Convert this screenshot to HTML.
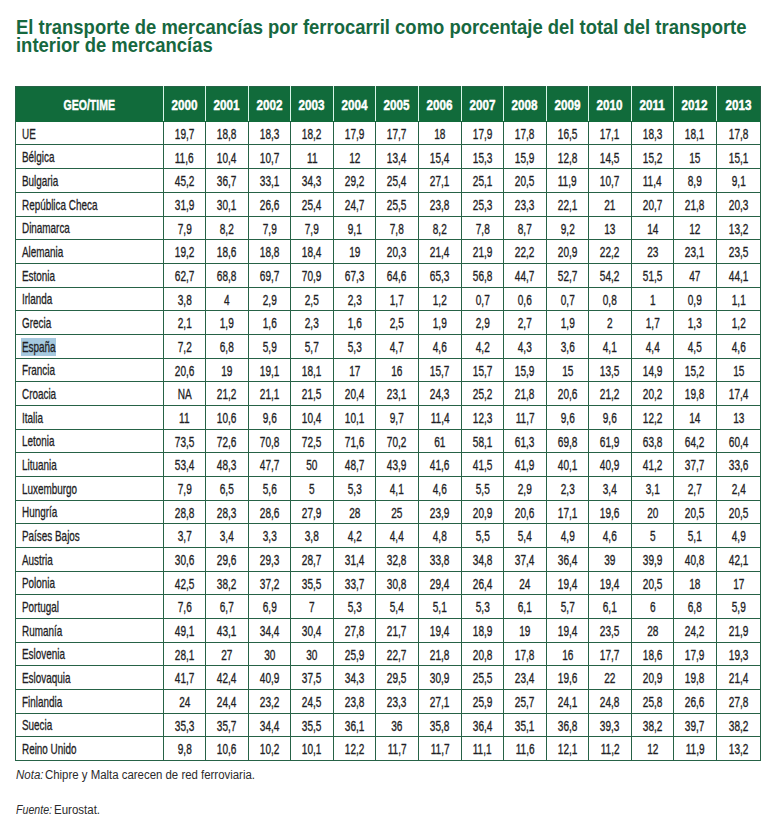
<!DOCTYPE html><html><head><meta charset="utf-8"><style>
html,body{margin:0;padding:0;background:#fff}
body{width:781px;height:821px;position:relative;overflow:hidden;font-family:"Liberation Sans",sans-serif}
.a{position:absolute}
.h{position:absolute;height:1px;background:#266246}
.v{position:absolute;width:1px;background:#266246}
.n{position:absolute;text-align:center;font-size:14px;line-height:14px;color:#1e1e24;white-space:nowrap;-webkit-text-stroke:0.32px #1e1e24}
.n span{display:inline-block;transform:scaleX(0.72);transform-origin:50% 50%}
.c{position:absolute;font-size:15px;line-height:15px;color:#1e1e24;white-space:nowrap;-webkit-text-stroke:0.32px #1e1e24;transform:scaleX(0.66);transform-origin:0 50%}
.y{position:absolute;text-align:center;font-size:14px;line-height:14px;color:#fff;font-weight:bold;white-space:nowrap;-webkit-text-stroke:0.45px #fff}
.y span{display:inline-block;transform:scaleX(0.835);transform-origin:50% 50%}
</style></head><body>
<div class="a" style="left:15.7px;top:17.74px;font-size:19.8px;line-height:19.8px;font-weight:bold;color:#17683f;white-space:nowrap;transform:scaleX(0.932);transform-origin:0 50%">El transporte de mercancías por ferrocarril como porcentaje del total del transporte</div>
<div class="a" style="left:15.7px;top:35.94px;font-size:19.8px;line-height:19.8px;font-weight:bold;color:#17683f;white-space:nowrap;transform:scaleX(0.932);transform-origin:0 50%">interior de mercancías</div>
<div class="a" style="left:15px;top:86px;width:746px;height:36px;background:#116b3b"></div>
<div class="v" style="left:15px;top:86px;height:675px"></div>
<div class="v" style="left:760px;top:86px;height:675px"></div>
<div class="h" style="left:15px;top:86px;width:746px"></div>
<div class="h" style="left:15px;top:144px;width:746px"></div>
<div class="h" style="left:15px;top:168px;width:746px"></div>
<div class="h" style="left:15px;top:192px;width:746px"></div>
<div class="h" style="left:15px;top:216px;width:746px"></div>
<div class="h" style="left:15px;top:239px;width:746px"></div>
<div class="h" style="left:15px;top:263px;width:746px"></div>
<div class="h" style="left:15px;top:287px;width:746px"></div>
<div class="h" style="left:15px;top:310px;width:746px"></div>
<div class="h" style="left:15px;top:334px;width:746px"></div>
<div class="h" style="left:15px;top:358px;width:746px"></div>
<div class="h" style="left:15px;top:381px;width:746px"></div>
<div class="h" style="left:15px;top:405px;width:746px"></div>
<div class="h" style="left:15px;top:429px;width:746px"></div>
<div class="h" style="left:15px;top:452px;width:746px"></div>
<div class="h" style="left:15px;top:476px;width:746px"></div>
<div class="h" style="left:15px;top:500px;width:746px"></div>
<div class="h" style="left:15px;top:523px;width:746px"></div>
<div class="h" style="left:15px;top:547px;width:746px"></div>
<div class="h" style="left:15px;top:571px;width:746px"></div>
<div class="h" style="left:15px;top:594px;width:746px"></div>
<div class="h" style="left:15px;top:618px;width:746px"></div>
<div class="h" style="left:15px;top:642px;width:746px"></div>
<div class="h" style="left:15px;top:665px;width:746px"></div>
<div class="h" style="left:15px;top:689px;width:746px"></div>
<div class="h" style="left:15px;top:713px;width:746px"></div>
<div class="h" style="left:15px;top:736px;width:746px"></div>
<div class="h" style="left:15px;top:760px;width:746px"></div>
<div class="v" style="left:163px;top:121px;height:640px"></div>
<div class="v" style="left:205px;top:121px;height:640px"></div>
<div class="v" style="left:248px;top:121px;height:640px"></div>
<div class="v" style="left:290px;top:121px;height:640px"></div>
<div class="v" style="left:333px;top:121px;height:640px"></div>
<div class="v" style="left:375px;top:121px;height:640px"></div>
<div class="v" style="left:418px;top:121px;height:640px"></div>
<div class="v" style="left:461px;top:121px;height:640px"></div>
<div class="v" style="left:503px;top:121px;height:640px"></div>
<div class="v" style="left:546px;top:121px;height:640px"></div>
<div class="v" style="left:588px;top:121px;height:640px"></div>
<div class="v" style="left:631px;top:121px;height:640px"></div>
<div class="v" style="left:673px;top:121px;height:640px"></div>
<div class="v" style="left:716px;top:121px;height:640px"></div>
<div class="a" style="left:163px;top:86px;width:1px;height:35px;background:#d8f5e8"></div>
<div class="a" style="left:205px;top:86px;width:1px;height:35px;background:#d8f5e8"></div>
<div class="a" style="left:248px;top:86px;width:1px;height:35px;background:#d8f5e8"></div>
<div class="a" style="left:290px;top:86px;width:1px;height:35px;background:#d8f5e8"></div>
<div class="a" style="left:333px;top:86px;width:1px;height:35px;background:#d8f5e8"></div>
<div class="a" style="left:375px;top:86px;width:1px;height:35px;background:#d8f5e8"></div>
<div class="a" style="left:418px;top:86px;width:1px;height:35px;background:#d8f5e8"></div>
<div class="a" style="left:461px;top:86px;width:1px;height:35px;background:#d8f5e8"></div>
<div class="a" style="left:503px;top:86px;width:1px;height:35px;background:#d8f5e8"></div>
<div class="a" style="left:546px;top:86px;width:1px;height:35px;background:#d8f5e8"></div>
<div class="a" style="left:588px;top:86px;width:1px;height:35px;background:#d8f5e8"></div>
<div class="a" style="left:631px;top:86px;width:1px;height:35px;background:#d8f5e8"></div>
<div class="a" style="left:673px;top:86px;width:1px;height:35px;background:#d8f5e8"></div>
<div class="a" style="left:716px;top:86px;width:1px;height:35px;background:#d8f5e8"></div>
<div class="y" style="left:15px;width:148px;top:97.85px"><span style="transform:scaleX(0.75)">GEO/TIME</span></div>
<div class="y" style="left:164px;width:41px;top:97.85px"><span>2000</span></div>
<div class="y" style="left:206px;width:42px;top:97.85px"><span>2001</span></div>
<div class="y" style="left:249px;width:41px;top:97.85px"><span>2002</span></div>
<div class="y" style="left:291px;width:42px;top:97.85px"><span>2003</span></div>
<div class="y" style="left:334px;width:41px;top:97.85px"><span>2004</span></div>
<div class="y" style="left:376px;width:42px;top:97.85px"><span>2005</span></div>
<div class="y" style="left:419px;width:42px;top:97.85px"><span>2006</span></div>
<div class="y" style="left:462px;width:41px;top:97.85px"><span>2007</span></div>
<div class="y" style="left:504px;width:42px;top:97.85px"><span>2008</span></div>
<div class="y" style="left:547px;width:41px;top:97.85px"><span>2009</span></div>
<div class="y" style="left:589px;width:42px;top:97.85px"><span>2010</span></div>
<div class="y" style="left:632px;width:41px;top:97.85px"><span>2011</span></div>
<div class="y" style="left:674px;width:42px;top:97.85px"><span>2012</span></div>
<div class="y" style="left:717px;width:43px;top:97.85px"><span>2013</span></div>
<div class="c" style="left:22.3px;top:125.80px">UE</div>
<div class="n" style="left:164px;width:41px;top:127.15px"><span>19,7</span></div>
<div class="n" style="left:206px;width:42px;top:127.15px"><span>18,8</span></div>
<div class="n" style="left:249px;width:41px;top:127.15px"><span>18,3</span></div>
<div class="n" style="left:291px;width:42px;top:127.15px"><span>18,2</span></div>
<div class="n" style="left:334px;width:41px;top:127.15px"><span>17,9</span></div>
<div class="n" style="left:376px;width:42px;top:127.15px"><span>17,7</span></div>
<div class="n" style="left:419px;width:42px;top:127.15px"><span>18</span></div>
<div class="n" style="left:462px;width:41px;top:127.15px"><span>17,9</span></div>
<div class="n" style="left:504px;width:42px;top:127.15px"><span>17,8</span></div>
<div class="n" style="left:547px;width:41px;top:127.15px"><span>16,5</span></div>
<div class="n" style="left:589px;width:42px;top:127.15px"><span>17,1</span></div>
<div class="n" style="left:632px;width:41px;top:127.15px"><span>18,3</span></div>
<div class="n" style="left:674px;width:42px;top:127.15px"><span>18,1</span></div>
<div class="n" style="left:717px;width:43px;top:127.15px"><span>17,8</span></div>
<div class="c" style="left:22.3px;top:149.47px">Bélgica</div>
<div class="n" style="left:164px;width:41px;top:150.82px"><span>11,6</span></div>
<div class="n" style="left:206px;width:42px;top:150.82px"><span>10,4</span></div>
<div class="n" style="left:249px;width:41px;top:150.82px"><span>10,7</span></div>
<div class="n" style="left:291px;width:42px;top:150.82px"><span>11</span></div>
<div class="n" style="left:334px;width:41px;top:150.82px"><span>12</span></div>
<div class="n" style="left:376px;width:42px;top:150.82px"><span>13,4</span></div>
<div class="n" style="left:419px;width:42px;top:150.82px"><span>15,4</span></div>
<div class="n" style="left:462px;width:41px;top:150.82px"><span>15,3</span></div>
<div class="n" style="left:504px;width:42px;top:150.82px"><span>15,9</span></div>
<div class="n" style="left:547px;width:41px;top:150.82px"><span>12,8</span></div>
<div class="n" style="left:589px;width:42px;top:150.82px"><span>14,5</span></div>
<div class="n" style="left:632px;width:41px;top:150.82px"><span>15,2</span></div>
<div class="n" style="left:674px;width:42px;top:150.82px"><span>15</span></div>
<div class="n" style="left:717px;width:43px;top:150.82px"><span>15,1</span></div>
<div class="c" style="left:22.3px;top:173.14px">Bulgaria</div>
<div class="n" style="left:164px;width:41px;top:174.48px"><span>45,2</span></div>
<div class="n" style="left:206px;width:42px;top:174.48px"><span>36,7</span></div>
<div class="n" style="left:249px;width:41px;top:174.48px"><span>33,1</span></div>
<div class="n" style="left:291px;width:42px;top:174.48px"><span>34,3</span></div>
<div class="n" style="left:334px;width:41px;top:174.48px"><span>29,2</span></div>
<div class="n" style="left:376px;width:42px;top:174.48px"><span>25,4</span></div>
<div class="n" style="left:419px;width:42px;top:174.48px"><span>27,1</span></div>
<div class="n" style="left:462px;width:41px;top:174.48px"><span>25,1</span></div>
<div class="n" style="left:504px;width:42px;top:174.48px"><span>20,5</span></div>
<div class="n" style="left:547px;width:41px;top:174.48px"><span>11,9</span></div>
<div class="n" style="left:589px;width:42px;top:174.48px"><span>10,7</span></div>
<div class="n" style="left:632px;width:41px;top:174.48px"><span>11,4</span></div>
<div class="n" style="left:674px;width:42px;top:174.48px"><span>8,9</span></div>
<div class="n" style="left:717px;width:43px;top:174.48px"><span>9,1</span></div>
<div class="c" style="left:22.3px;top:196.80px">República Checa</div>
<div class="n" style="left:164px;width:41px;top:198.15px"><span>31,9</span></div>
<div class="n" style="left:206px;width:42px;top:198.15px"><span>30,1</span></div>
<div class="n" style="left:249px;width:41px;top:198.15px"><span>26,6</span></div>
<div class="n" style="left:291px;width:42px;top:198.15px"><span>25,4</span></div>
<div class="n" style="left:334px;width:41px;top:198.15px"><span>24,7</span></div>
<div class="n" style="left:376px;width:42px;top:198.15px"><span>25,5</span></div>
<div class="n" style="left:419px;width:42px;top:198.15px"><span>23,8</span></div>
<div class="n" style="left:462px;width:41px;top:198.15px"><span>25,3</span></div>
<div class="n" style="left:504px;width:42px;top:198.15px"><span>23,3</span></div>
<div class="n" style="left:547px;width:41px;top:198.15px"><span>22,1</span></div>
<div class="n" style="left:589px;width:42px;top:198.15px"><span>21</span></div>
<div class="n" style="left:632px;width:41px;top:198.15px"><span>20,7</span></div>
<div class="n" style="left:674px;width:42px;top:198.15px"><span>21,8</span></div>
<div class="n" style="left:717px;width:43px;top:198.15px"><span>20,3</span></div>
<div class="c" style="left:22.3px;top:220.47px">Dinamarca</div>
<div class="n" style="left:164px;width:41px;top:221.82px"><span>7,9</span></div>
<div class="n" style="left:206px;width:42px;top:221.82px"><span>8,2</span></div>
<div class="n" style="left:249px;width:41px;top:221.82px"><span>7,9</span></div>
<div class="n" style="left:291px;width:42px;top:221.82px"><span>7,9</span></div>
<div class="n" style="left:334px;width:41px;top:221.82px"><span>9,1</span></div>
<div class="n" style="left:376px;width:42px;top:221.82px"><span>7,8</span></div>
<div class="n" style="left:419px;width:42px;top:221.82px"><span>8,2</span></div>
<div class="n" style="left:462px;width:41px;top:221.82px"><span>7,8</span></div>
<div class="n" style="left:504px;width:42px;top:221.82px"><span>8,7</span></div>
<div class="n" style="left:547px;width:41px;top:221.82px"><span>9,2</span></div>
<div class="n" style="left:589px;width:42px;top:221.82px"><span>13</span></div>
<div class="n" style="left:632px;width:41px;top:221.82px"><span>14</span></div>
<div class="n" style="left:674px;width:42px;top:221.82px"><span>12</span></div>
<div class="n" style="left:717px;width:43px;top:221.82px"><span>13,2</span></div>
<div class="c" style="left:22.3px;top:244.14px">Alemania</div>
<div class="n" style="left:164px;width:41px;top:245.48px"><span>19,2</span></div>
<div class="n" style="left:206px;width:42px;top:245.48px"><span>18,6</span></div>
<div class="n" style="left:249px;width:41px;top:245.48px"><span>18,8</span></div>
<div class="n" style="left:291px;width:42px;top:245.48px"><span>18,4</span></div>
<div class="n" style="left:334px;width:41px;top:245.48px"><span>19</span></div>
<div class="n" style="left:376px;width:42px;top:245.48px"><span>20,3</span></div>
<div class="n" style="left:419px;width:42px;top:245.48px"><span>21,4</span></div>
<div class="n" style="left:462px;width:41px;top:245.48px"><span>21,9</span></div>
<div class="n" style="left:504px;width:42px;top:245.48px"><span>22,2</span></div>
<div class="n" style="left:547px;width:41px;top:245.48px"><span>20,9</span></div>
<div class="n" style="left:589px;width:42px;top:245.48px"><span>22,2</span></div>
<div class="n" style="left:632px;width:41px;top:245.48px"><span>23</span></div>
<div class="n" style="left:674px;width:42px;top:245.48px"><span>23,1</span></div>
<div class="n" style="left:717px;width:43px;top:245.48px"><span>23,5</span></div>
<div class="c" style="left:22.3px;top:267.80px">Estonia</div>
<div class="n" style="left:164px;width:41px;top:269.15px"><span>62,7</span></div>
<div class="n" style="left:206px;width:42px;top:269.15px"><span>68,8</span></div>
<div class="n" style="left:249px;width:41px;top:269.15px"><span>69,7</span></div>
<div class="n" style="left:291px;width:42px;top:269.15px"><span>70,9</span></div>
<div class="n" style="left:334px;width:41px;top:269.15px"><span>67,3</span></div>
<div class="n" style="left:376px;width:42px;top:269.15px"><span>64,6</span></div>
<div class="n" style="left:419px;width:42px;top:269.15px"><span>65,3</span></div>
<div class="n" style="left:462px;width:41px;top:269.15px"><span>56,8</span></div>
<div class="n" style="left:504px;width:42px;top:269.15px"><span>44,7</span></div>
<div class="n" style="left:547px;width:41px;top:269.15px"><span>52,7</span></div>
<div class="n" style="left:589px;width:42px;top:269.15px"><span>54,2</span></div>
<div class="n" style="left:632px;width:41px;top:269.15px"><span>51,5</span></div>
<div class="n" style="left:674px;width:42px;top:269.15px"><span>47</span></div>
<div class="n" style="left:717px;width:43px;top:269.15px"><span>44,1</span></div>
<div class="c" style="left:22.3px;top:291.47px">Irlanda</div>
<div class="n" style="left:164px;width:41px;top:292.82px"><span>3,8</span></div>
<div class="n" style="left:206px;width:42px;top:292.82px"><span>4</span></div>
<div class="n" style="left:249px;width:41px;top:292.82px"><span>2,9</span></div>
<div class="n" style="left:291px;width:42px;top:292.82px"><span>2,5</span></div>
<div class="n" style="left:334px;width:41px;top:292.82px"><span>2,3</span></div>
<div class="n" style="left:376px;width:42px;top:292.82px"><span>1,7</span></div>
<div class="n" style="left:419px;width:42px;top:292.82px"><span>1,2</span></div>
<div class="n" style="left:462px;width:41px;top:292.82px"><span>0,7</span></div>
<div class="n" style="left:504px;width:42px;top:292.82px"><span>0,6</span></div>
<div class="n" style="left:547px;width:41px;top:292.82px"><span>0,7</span></div>
<div class="n" style="left:589px;width:42px;top:292.82px"><span>0,8</span></div>
<div class="n" style="left:632px;width:41px;top:292.82px"><span>1</span></div>
<div class="n" style="left:674px;width:42px;top:292.82px"><span>0,9</span></div>
<div class="n" style="left:717px;width:43px;top:292.82px"><span>1,1</span></div>
<div class="c" style="left:22.3px;top:315.14px">Grecia</div>
<div class="n" style="left:164px;width:41px;top:316.48px"><span>2,1</span></div>
<div class="n" style="left:206px;width:42px;top:316.48px"><span>1,9</span></div>
<div class="n" style="left:249px;width:41px;top:316.48px"><span>1,6</span></div>
<div class="n" style="left:291px;width:42px;top:316.48px"><span>2,3</span></div>
<div class="n" style="left:334px;width:41px;top:316.48px"><span>1,6</span></div>
<div class="n" style="left:376px;width:42px;top:316.48px"><span>2,5</span></div>
<div class="n" style="left:419px;width:42px;top:316.48px"><span>1,9</span></div>
<div class="n" style="left:462px;width:41px;top:316.48px"><span>2,9</span></div>
<div class="n" style="left:504px;width:42px;top:316.48px"><span>2,7</span></div>
<div class="n" style="left:547px;width:41px;top:316.48px"><span>1,9</span></div>
<div class="n" style="left:589px;width:42px;top:316.48px"><span>2</span></div>
<div class="n" style="left:632px;width:41px;top:316.48px"><span>1,7</span></div>
<div class="n" style="left:674px;width:42px;top:316.48px"><span>1,3</span></div>
<div class="n" style="left:717px;width:43px;top:316.48px"><span>1,2</span></div>
<div class="a" style="left:21px;top:338px;width:35px;height:18px;background:#a6c9df"></div>
<div class="c" style="left:22.3px;top:338.80px">España</div>
<div class="n" style="left:164px;width:41px;top:340.15px"><span>7,2</span></div>
<div class="n" style="left:206px;width:42px;top:340.15px"><span>6,8</span></div>
<div class="n" style="left:249px;width:41px;top:340.15px"><span>5,9</span></div>
<div class="n" style="left:291px;width:42px;top:340.15px"><span>5,7</span></div>
<div class="n" style="left:334px;width:41px;top:340.15px"><span>5,3</span></div>
<div class="n" style="left:376px;width:42px;top:340.15px"><span>4,7</span></div>
<div class="n" style="left:419px;width:42px;top:340.15px"><span>4,6</span></div>
<div class="n" style="left:462px;width:41px;top:340.15px"><span>4,2</span></div>
<div class="n" style="left:504px;width:42px;top:340.15px"><span>4,3</span></div>
<div class="n" style="left:547px;width:41px;top:340.15px"><span>3,6</span></div>
<div class="n" style="left:589px;width:42px;top:340.15px"><span>4,1</span></div>
<div class="n" style="left:632px;width:41px;top:340.15px"><span>4,4</span></div>
<div class="n" style="left:674px;width:42px;top:340.15px"><span>4,5</span></div>
<div class="n" style="left:717px;width:43px;top:340.15px"><span>4,6</span></div>
<div class="c" style="left:22.3px;top:362.47px">Francia</div>
<div class="n" style="left:164px;width:41px;top:363.82px"><span>20,6</span></div>
<div class="n" style="left:206px;width:42px;top:363.82px"><span>19</span></div>
<div class="n" style="left:249px;width:41px;top:363.82px"><span>19,1</span></div>
<div class="n" style="left:291px;width:42px;top:363.82px"><span>18,1</span></div>
<div class="n" style="left:334px;width:41px;top:363.82px"><span>17</span></div>
<div class="n" style="left:376px;width:42px;top:363.82px"><span>16</span></div>
<div class="n" style="left:419px;width:42px;top:363.82px"><span>15,7</span></div>
<div class="n" style="left:462px;width:41px;top:363.82px"><span>15,7</span></div>
<div class="n" style="left:504px;width:42px;top:363.82px"><span>15,9</span></div>
<div class="n" style="left:547px;width:41px;top:363.82px"><span>15</span></div>
<div class="n" style="left:589px;width:42px;top:363.82px"><span>13,5</span></div>
<div class="n" style="left:632px;width:41px;top:363.82px"><span>14,9</span></div>
<div class="n" style="left:674px;width:42px;top:363.82px"><span>15,2</span></div>
<div class="n" style="left:717px;width:43px;top:363.82px"><span>15</span></div>
<div class="c" style="left:22.3px;top:386.14px">Croacia</div>
<div class="n" style="left:164px;width:41px;top:387.48px"><span>NA</span></div>
<div class="n" style="left:206px;width:42px;top:387.48px"><span>21,2</span></div>
<div class="n" style="left:249px;width:41px;top:387.48px"><span>21,1</span></div>
<div class="n" style="left:291px;width:42px;top:387.48px"><span>21,5</span></div>
<div class="n" style="left:334px;width:41px;top:387.48px"><span>20,4</span></div>
<div class="n" style="left:376px;width:42px;top:387.48px"><span>23,1</span></div>
<div class="n" style="left:419px;width:42px;top:387.48px"><span>24,3</span></div>
<div class="n" style="left:462px;width:41px;top:387.48px"><span>25,2</span></div>
<div class="n" style="left:504px;width:42px;top:387.48px"><span>21,8</span></div>
<div class="n" style="left:547px;width:41px;top:387.48px"><span>20,6</span></div>
<div class="n" style="left:589px;width:42px;top:387.48px"><span>21,2</span></div>
<div class="n" style="left:632px;width:41px;top:387.48px"><span>20,2</span></div>
<div class="n" style="left:674px;width:42px;top:387.48px"><span>19,8</span></div>
<div class="n" style="left:717px;width:43px;top:387.48px"><span>17,4</span></div>
<div class="c" style="left:22.3px;top:409.80px">Italia</div>
<div class="n" style="left:164px;width:41px;top:411.15px"><span>11</span></div>
<div class="n" style="left:206px;width:42px;top:411.15px"><span>10,6</span></div>
<div class="n" style="left:249px;width:41px;top:411.15px"><span>9,6</span></div>
<div class="n" style="left:291px;width:42px;top:411.15px"><span>10,4</span></div>
<div class="n" style="left:334px;width:41px;top:411.15px"><span>10,1</span></div>
<div class="n" style="left:376px;width:42px;top:411.15px"><span>9,7</span></div>
<div class="n" style="left:419px;width:42px;top:411.15px"><span>11,4</span></div>
<div class="n" style="left:462px;width:41px;top:411.15px"><span>12,3</span></div>
<div class="n" style="left:504px;width:42px;top:411.15px"><span>11,7</span></div>
<div class="n" style="left:547px;width:41px;top:411.15px"><span>9,6</span></div>
<div class="n" style="left:589px;width:42px;top:411.15px"><span>9,6</span></div>
<div class="n" style="left:632px;width:41px;top:411.15px"><span>12,2</span></div>
<div class="n" style="left:674px;width:42px;top:411.15px"><span>14</span></div>
<div class="n" style="left:717px;width:43px;top:411.15px"><span>13</span></div>
<div class="c" style="left:22.3px;top:433.47px">Letonia</div>
<div class="n" style="left:164px;width:41px;top:434.82px"><span>73,5</span></div>
<div class="n" style="left:206px;width:42px;top:434.82px"><span>72,6</span></div>
<div class="n" style="left:249px;width:41px;top:434.82px"><span>70,8</span></div>
<div class="n" style="left:291px;width:42px;top:434.82px"><span>72,5</span></div>
<div class="n" style="left:334px;width:41px;top:434.82px"><span>71,6</span></div>
<div class="n" style="left:376px;width:42px;top:434.82px"><span>70,2</span></div>
<div class="n" style="left:419px;width:42px;top:434.82px"><span>61</span></div>
<div class="n" style="left:462px;width:41px;top:434.82px"><span>58,1</span></div>
<div class="n" style="left:504px;width:42px;top:434.82px"><span>61,3</span></div>
<div class="n" style="left:547px;width:41px;top:434.82px"><span>69,8</span></div>
<div class="n" style="left:589px;width:42px;top:434.82px"><span>61,9</span></div>
<div class="n" style="left:632px;width:41px;top:434.82px"><span>63,8</span></div>
<div class="n" style="left:674px;width:42px;top:434.82px"><span>64,2</span></div>
<div class="n" style="left:717px;width:43px;top:434.82px"><span>60,4</span></div>
<div class="c" style="left:22.3px;top:457.14px">Lituania</div>
<div class="n" style="left:164px;width:41px;top:458.48px"><span>53,4</span></div>
<div class="n" style="left:206px;width:42px;top:458.48px"><span>48,3</span></div>
<div class="n" style="left:249px;width:41px;top:458.48px"><span>47,7</span></div>
<div class="n" style="left:291px;width:42px;top:458.48px"><span>50</span></div>
<div class="n" style="left:334px;width:41px;top:458.48px"><span>48,7</span></div>
<div class="n" style="left:376px;width:42px;top:458.48px"><span>43,9</span></div>
<div class="n" style="left:419px;width:42px;top:458.48px"><span>41,6</span></div>
<div class="n" style="left:462px;width:41px;top:458.48px"><span>41,5</span></div>
<div class="n" style="left:504px;width:42px;top:458.48px"><span>41,9</span></div>
<div class="n" style="left:547px;width:41px;top:458.48px"><span>40,1</span></div>
<div class="n" style="left:589px;width:42px;top:458.48px"><span>40,9</span></div>
<div class="n" style="left:632px;width:41px;top:458.48px"><span>41,2</span></div>
<div class="n" style="left:674px;width:42px;top:458.48px"><span>37,7</span></div>
<div class="n" style="left:717px;width:43px;top:458.48px"><span>33,6</span></div>
<div class="c" style="left:22.3px;top:480.80px">Luxemburgo</div>
<div class="n" style="left:164px;width:41px;top:482.15px"><span>7,9</span></div>
<div class="n" style="left:206px;width:42px;top:482.15px"><span>6,5</span></div>
<div class="n" style="left:249px;width:41px;top:482.15px"><span>5,6</span></div>
<div class="n" style="left:291px;width:42px;top:482.15px"><span>5</span></div>
<div class="n" style="left:334px;width:41px;top:482.15px"><span>5,3</span></div>
<div class="n" style="left:376px;width:42px;top:482.15px"><span>4,1</span></div>
<div class="n" style="left:419px;width:42px;top:482.15px"><span>4,6</span></div>
<div class="n" style="left:462px;width:41px;top:482.15px"><span>5,5</span></div>
<div class="n" style="left:504px;width:42px;top:482.15px"><span>2,9</span></div>
<div class="n" style="left:547px;width:41px;top:482.15px"><span>2,3</span></div>
<div class="n" style="left:589px;width:42px;top:482.15px"><span>3,4</span></div>
<div class="n" style="left:632px;width:41px;top:482.15px"><span>3,1</span></div>
<div class="n" style="left:674px;width:42px;top:482.15px"><span>2,7</span></div>
<div class="n" style="left:717px;width:43px;top:482.15px"><span>2,4</span></div>
<div class="c" style="left:22.3px;top:504.47px">Hungría</div>
<div class="n" style="left:164px;width:41px;top:505.82px"><span>28,8</span></div>
<div class="n" style="left:206px;width:42px;top:505.82px"><span>28,3</span></div>
<div class="n" style="left:249px;width:41px;top:505.82px"><span>28,6</span></div>
<div class="n" style="left:291px;width:42px;top:505.82px"><span>27,9</span></div>
<div class="n" style="left:334px;width:41px;top:505.82px"><span>28</span></div>
<div class="n" style="left:376px;width:42px;top:505.82px"><span>25</span></div>
<div class="n" style="left:419px;width:42px;top:505.82px"><span>23,9</span></div>
<div class="n" style="left:462px;width:41px;top:505.82px"><span>20,9</span></div>
<div class="n" style="left:504px;width:42px;top:505.82px"><span>20,6</span></div>
<div class="n" style="left:547px;width:41px;top:505.82px"><span>17,1</span></div>
<div class="n" style="left:589px;width:42px;top:505.82px"><span>19,6</span></div>
<div class="n" style="left:632px;width:41px;top:505.82px"><span>20</span></div>
<div class="n" style="left:674px;width:42px;top:505.82px"><span>20,5</span></div>
<div class="n" style="left:717px;width:43px;top:505.82px"><span>20,5</span></div>
<div class="c" style="left:22.3px;top:528.14px">Países Bajos</div>
<div class="n" style="left:164px;width:41px;top:529.48px"><span>3,7</span></div>
<div class="n" style="left:206px;width:42px;top:529.48px"><span>3,4</span></div>
<div class="n" style="left:249px;width:41px;top:529.48px"><span>3,3</span></div>
<div class="n" style="left:291px;width:42px;top:529.48px"><span>3,8</span></div>
<div class="n" style="left:334px;width:41px;top:529.48px"><span>4,2</span></div>
<div class="n" style="left:376px;width:42px;top:529.48px"><span>4,4</span></div>
<div class="n" style="left:419px;width:42px;top:529.48px"><span>4,8</span></div>
<div class="n" style="left:462px;width:41px;top:529.48px"><span>5,5</span></div>
<div class="n" style="left:504px;width:42px;top:529.48px"><span>5,4</span></div>
<div class="n" style="left:547px;width:41px;top:529.48px"><span>4,9</span></div>
<div class="n" style="left:589px;width:42px;top:529.48px"><span>4,6</span></div>
<div class="n" style="left:632px;width:41px;top:529.48px"><span>5</span></div>
<div class="n" style="left:674px;width:42px;top:529.48px"><span>5,1</span></div>
<div class="n" style="left:717px;width:43px;top:529.48px"><span>4,9</span></div>
<div class="c" style="left:22.3px;top:551.80px">Austria</div>
<div class="n" style="left:164px;width:41px;top:553.15px"><span>30,6</span></div>
<div class="n" style="left:206px;width:42px;top:553.15px"><span>29,6</span></div>
<div class="n" style="left:249px;width:41px;top:553.15px"><span>29,3</span></div>
<div class="n" style="left:291px;width:42px;top:553.15px"><span>28,7</span></div>
<div class="n" style="left:334px;width:41px;top:553.15px"><span>31,4</span></div>
<div class="n" style="left:376px;width:42px;top:553.15px"><span>32,8</span></div>
<div class="n" style="left:419px;width:42px;top:553.15px"><span>33,8</span></div>
<div class="n" style="left:462px;width:41px;top:553.15px"><span>34,8</span></div>
<div class="n" style="left:504px;width:42px;top:553.15px"><span>37,4</span></div>
<div class="n" style="left:547px;width:41px;top:553.15px"><span>36,4</span></div>
<div class="n" style="left:589px;width:42px;top:553.15px"><span>39</span></div>
<div class="n" style="left:632px;width:41px;top:553.15px"><span>39,9</span></div>
<div class="n" style="left:674px;width:42px;top:553.15px"><span>40,8</span></div>
<div class="n" style="left:717px;width:43px;top:553.15px"><span>42,1</span></div>
<div class="c" style="left:22.3px;top:575.47px">Polonia</div>
<div class="n" style="left:164px;width:41px;top:576.82px"><span>42,5</span></div>
<div class="n" style="left:206px;width:42px;top:576.82px"><span>38,2</span></div>
<div class="n" style="left:249px;width:41px;top:576.82px"><span>37,2</span></div>
<div class="n" style="left:291px;width:42px;top:576.82px"><span>35,5</span></div>
<div class="n" style="left:334px;width:41px;top:576.82px"><span>33,7</span></div>
<div class="n" style="left:376px;width:42px;top:576.82px"><span>30,8</span></div>
<div class="n" style="left:419px;width:42px;top:576.82px"><span>29,4</span></div>
<div class="n" style="left:462px;width:41px;top:576.82px"><span>26,4</span></div>
<div class="n" style="left:504px;width:42px;top:576.82px"><span>24</span></div>
<div class="n" style="left:547px;width:41px;top:576.82px"><span>19,4</span></div>
<div class="n" style="left:589px;width:42px;top:576.82px"><span>19,4</span></div>
<div class="n" style="left:632px;width:41px;top:576.82px"><span>20,5</span></div>
<div class="n" style="left:674px;width:42px;top:576.82px"><span>18</span></div>
<div class="n" style="left:717px;width:43px;top:576.82px"><span>17</span></div>
<div class="c" style="left:22.3px;top:599.14px">Portugal</div>
<div class="n" style="left:164px;width:41px;top:600.48px"><span>7,6</span></div>
<div class="n" style="left:206px;width:42px;top:600.48px"><span>6,7</span></div>
<div class="n" style="left:249px;width:41px;top:600.48px"><span>6,9</span></div>
<div class="n" style="left:291px;width:42px;top:600.48px"><span>7</span></div>
<div class="n" style="left:334px;width:41px;top:600.48px"><span>5,3</span></div>
<div class="n" style="left:376px;width:42px;top:600.48px"><span>5,4</span></div>
<div class="n" style="left:419px;width:42px;top:600.48px"><span>5,1</span></div>
<div class="n" style="left:462px;width:41px;top:600.48px"><span>5,3</span></div>
<div class="n" style="left:504px;width:42px;top:600.48px"><span>6,1</span></div>
<div class="n" style="left:547px;width:41px;top:600.48px"><span>5,7</span></div>
<div class="n" style="left:589px;width:42px;top:600.48px"><span>6,1</span></div>
<div class="n" style="left:632px;width:41px;top:600.48px"><span>6</span></div>
<div class="n" style="left:674px;width:42px;top:600.48px"><span>6,8</span></div>
<div class="n" style="left:717px;width:43px;top:600.48px"><span>5,9</span></div>
<div class="c" style="left:22.3px;top:622.80px">Rumanía</div>
<div class="n" style="left:164px;width:41px;top:624.15px"><span>49,1</span></div>
<div class="n" style="left:206px;width:42px;top:624.15px"><span>43,1</span></div>
<div class="n" style="left:249px;width:41px;top:624.15px"><span>34,4</span></div>
<div class="n" style="left:291px;width:42px;top:624.15px"><span>30,4</span></div>
<div class="n" style="left:334px;width:41px;top:624.15px"><span>27,8</span></div>
<div class="n" style="left:376px;width:42px;top:624.15px"><span>21,7</span></div>
<div class="n" style="left:419px;width:42px;top:624.15px"><span>19,4</span></div>
<div class="n" style="left:462px;width:41px;top:624.15px"><span>18,9</span></div>
<div class="n" style="left:504px;width:42px;top:624.15px"><span>19</span></div>
<div class="n" style="left:547px;width:41px;top:624.15px"><span>19,4</span></div>
<div class="n" style="left:589px;width:42px;top:624.15px"><span>23,5</span></div>
<div class="n" style="left:632px;width:41px;top:624.15px"><span>28</span></div>
<div class="n" style="left:674px;width:42px;top:624.15px"><span>24,2</span></div>
<div class="n" style="left:717px;width:43px;top:624.15px"><span>21,9</span></div>
<div class="c" style="left:22.3px;top:646.47px">Eslovenia</div>
<div class="n" style="left:164px;width:41px;top:647.82px"><span>28,1</span></div>
<div class="n" style="left:206px;width:42px;top:647.82px"><span>27</span></div>
<div class="n" style="left:249px;width:41px;top:647.82px"><span>30</span></div>
<div class="n" style="left:291px;width:42px;top:647.82px"><span>30</span></div>
<div class="n" style="left:334px;width:41px;top:647.82px"><span>25,9</span></div>
<div class="n" style="left:376px;width:42px;top:647.82px"><span>22,7</span></div>
<div class="n" style="left:419px;width:42px;top:647.82px"><span>21,8</span></div>
<div class="n" style="left:462px;width:41px;top:647.82px"><span>20,8</span></div>
<div class="n" style="left:504px;width:42px;top:647.82px"><span>17,8</span></div>
<div class="n" style="left:547px;width:41px;top:647.82px"><span>16</span></div>
<div class="n" style="left:589px;width:42px;top:647.82px"><span>17,7</span></div>
<div class="n" style="left:632px;width:41px;top:647.82px"><span>18,6</span></div>
<div class="n" style="left:674px;width:42px;top:647.82px"><span>17,9</span></div>
<div class="n" style="left:717px;width:43px;top:647.82px"><span>19,3</span></div>
<div class="c" style="left:22.3px;top:670.14px">Eslovaquia</div>
<div class="n" style="left:164px;width:41px;top:671.48px"><span>41,7</span></div>
<div class="n" style="left:206px;width:42px;top:671.48px"><span>42,4</span></div>
<div class="n" style="left:249px;width:41px;top:671.48px"><span>40,9</span></div>
<div class="n" style="left:291px;width:42px;top:671.48px"><span>37,5</span></div>
<div class="n" style="left:334px;width:41px;top:671.48px"><span>34,3</span></div>
<div class="n" style="left:376px;width:42px;top:671.48px"><span>29,5</span></div>
<div class="n" style="left:419px;width:42px;top:671.48px"><span>30,9</span></div>
<div class="n" style="left:462px;width:41px;top:671.48px"><span>25,5</span></div>
<div class="n" style="left:504px;width:42px;top:671.48px"><span>23,4</span></div>
<div class="n" style="left:547px;width:41px;top:671.48px"><span>19,6</span></div>
<div class="n" style="left:589px;width:42px;top:671.48px"><span>22</span></div>
<div class="n" style="left:632px;width:41px;top:671.48px"><span>20,9</span></div>
<div class="n" style="left:674px;width:42px;top:671.48px"><span>19,8</span></div>
<div class="n" style="left:717px;width:43px;top:671.48px"><span>21,4</span></div>
<div class="c" style="left:22.3px;top:693.80px">Finlandia</div>
<div class="n" style="left:164px;width:41px;top:695.15px"><span>24</span></div>
<div class="n" style="left:206px;width:42px;top:695.15px"><span>24,4</span></div>
<div class="n" style="left:249px;width:41px;top:695.15px"><span>23,2</span></div>
<div class="n" style="left:291px;width:42px;top:695.15px"><span>24,5</span></div>
<div class="n" style="left:334px;width:41px;top:695.15px"><span>23,8</span></div>
<div class="n" style="left:376px;width:42px;top:695.15px"><span>23,3</span></div>
<div class="n" style="left:419px;width:42px;top:695.15px"><span>27,1</span></div>
<div class="n" style="left:462px;width:41px;top:695.15px"><span>25,9</span></div>
<div class="n" style="left:504px;width:42px;top:695.15px"><span>25,7</span></div>
<div class="n" style="left:547px;width:41px;top:695.15px"><span>24,1</span></div>
<div class="n" style="left:589px;width:42px;top:695.15px"><span>24,8</span></div>
<div class="n" style="left:632px;width:41px;top:695.15px"><span>25,8</span></div>
<div class="n" style="left:674px;width:42px;top:695.15px"><span>26,6</span></div>
<div class="n" style="left:717px;width:43px;top:695.15px"><span>27,8</span></div>
<div class="c" style="left:22.3px;top:717.47px">Suecia</div>
<div class="n" style="left:164px;width:41px;top:718.82px"><span>35,3</span></div>
<div class="n" style="left:206px;width:42px;top:718.82px"><span>35,7</span></div>
<div class="n" style="left:249px;width:41px;top:718.82px"><span>34,4</span></div>
<div class="n" style="left:291px;width:42px;top:718.82px"><span>35,5</span></div>
<div class="n" style="left:334px;width:41px;top:718.82px"><span>36,1</span></div>
<div class="n" style="left:376px;width:42px;top:718.82px"><span>36</span></div>
<div class="n" style="left:419px;width:42px;top:718.82px"><span>35,8</span></div>
<div class="n" style="left:462px;width:41px;top:718.82px"><span>36,4</span></div>
<div class="n" style="left:504px;width:42px;top:718.82px"><span>35,1</span></div>
<div class="n" style="left:547px;width:41px;top:718.82px"><span>36,8</span></div>
<div class="n" style="left:589px;width:42px;top:718.82px"><span>39,3</span></div>
<div class="n" style="left:632px;width:41px;top:718.82px"><span>38,2</span></div>
<div class="n" style="left:674px;width:42px;top:718.82px"><span>39,7</span></div>
<div class="n" style="left:717px;width:43px;top:718.82px"><span>38,2</span></div>
<div class="c" style="left:22.3px;top:741.14px">Reino Unido</div>
<div class="n" style="left:164px;width:41px;top:742.48px"><span>9,8</span></div>
<div class="n" style="left:206px;width:42px;top:742.48px"><span>10,6</span></div>
<div class="n" style="left:249px;width:41px;top:742.48px"><span>10,2</span></div>
<div class="n" style="left:291px;width:42px;top:742.48px"><span>10,1</span></div>
<div class="n" style="left:334px;width:41px;top:742.48px"><span>12,2</span></div>
<div class="n" style="left:376px;width:42px;top:742.48px"><span>11,7</span></div>
<div class="n" style="left:419px;width:42px;top:742.48px"><span>11,7</span></div>
<div class="n" style="left:462px;width:41px;top:742.48px"><span>11,1</span></div>
<div class="n" style="left:504px;width:42px;top:742.48px"><span>11,6</span></div>
<div class="n" style="left:547px;width:41px;top:742.48px"><span>12,1</span></div>
<div class="n" style="left:589px;width:42px;top:742.48px"><span>11,2</span></div>
<div class="n" style="left:632px;width:41px;top:742.48px"><span>12</span></div>
<div class="n" style="left:674px;width:42px;top:742.48px"><span>11,9</span></div>
<div class="n" style="left:717px;width:43px;top:742.48px"><span>13,2</span></div>
<div class="a" style="left:15.5px;top:768.72px;font-size:12.5px;line-height:12.5px;color:#2b2b2b;font-style:italic;white-space:nowrap;transform:scaleX(0.92);transform-origin:0 50%">Nota:</div>
<div class="a" style="left:45px;top:768.72px;font-size:12.5px;line-height:12.5px;color:#2b2b2b;white-space:nowrap;transform:scaleX(0.913);transform-origin:0 50%">Chipre y Malta carecen de red ferroviaria.</div>
<div class="a" style="left:15.5px;top:803.72px;font-size:12.5px;line-height:12.5px;color:#2b2b2b;font-style:italic;white-space:nowrap;transform:scaleX(0.85);transform-origin:0 50%">Fuente:</div>
<div class="a" style="left:53.5px;top:803.72px;font-size:12.5px;line-height:12.5px;color:#2b2b2b;white-space:nowrap;transform:scaleX(0.92);transform-origin:0 50%">Eurostat.</div>
</body></html>
